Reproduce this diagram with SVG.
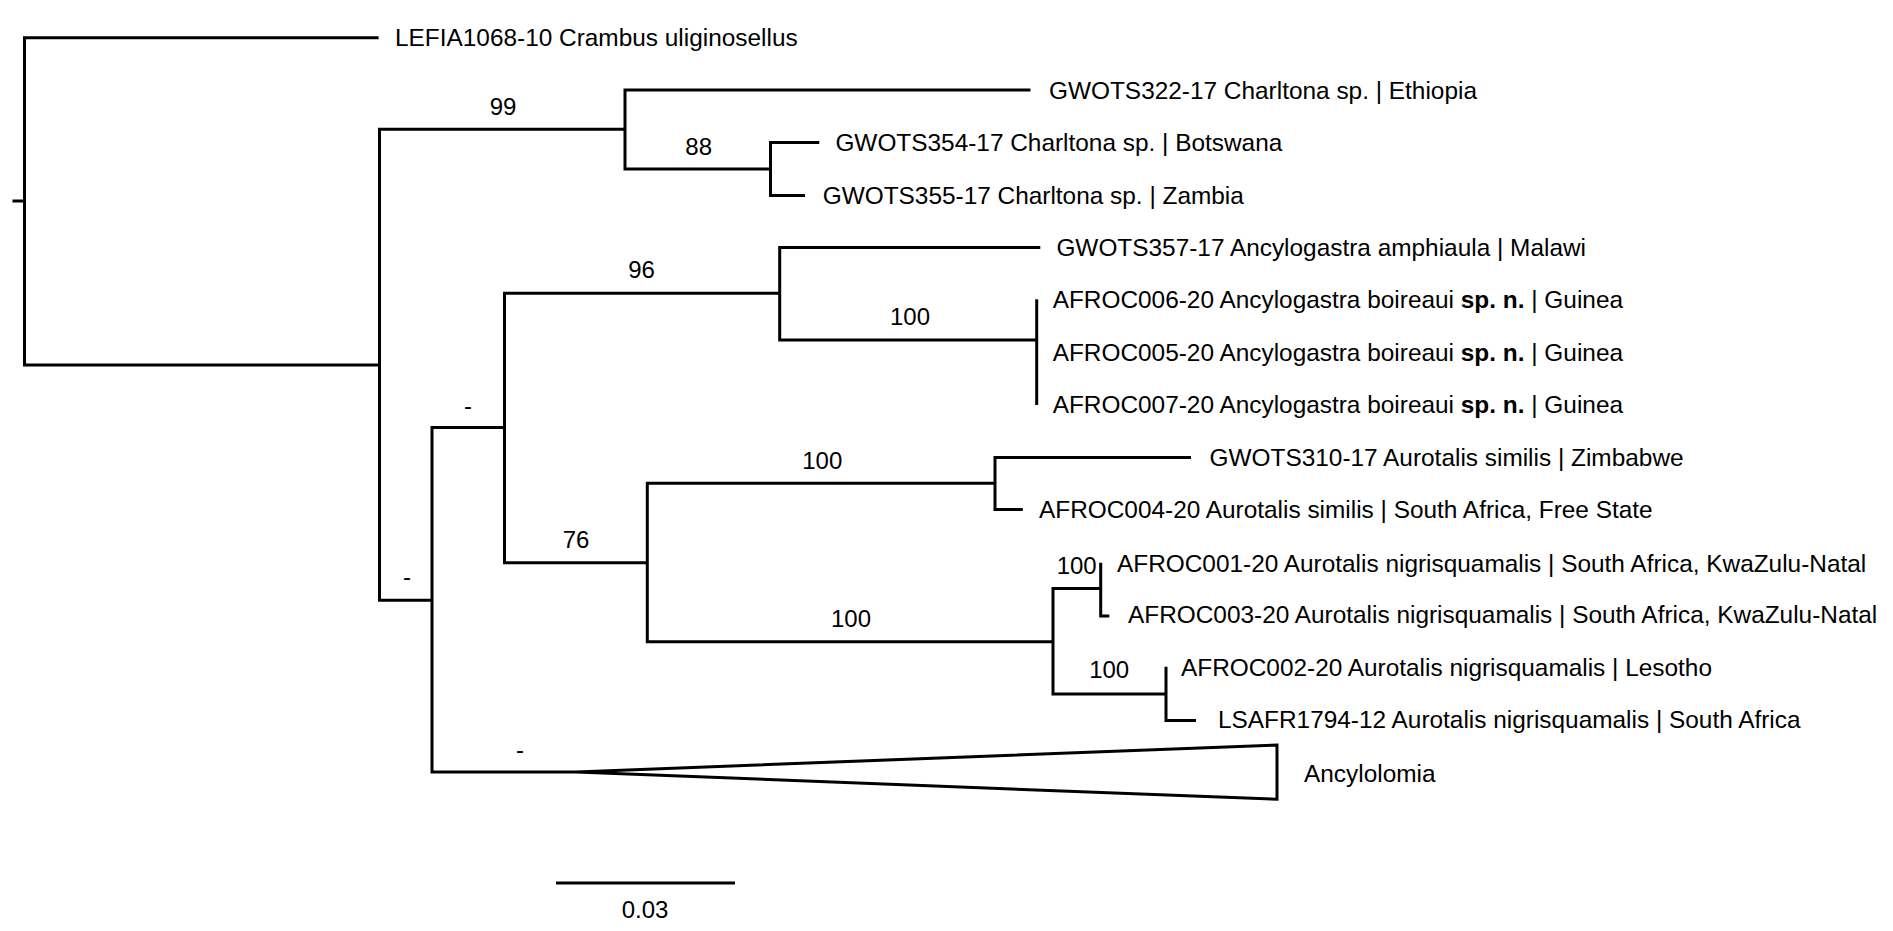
<svg xmlns="http://www.w3.org/2000/svg" width="1893" height="931" viewBox="0 0 1893 931">
<style>
  .br { fill: none; stroke: #000; stroke-width: 3; stroke-linejoin: miter; stroke-linecap: butt; }
  .tip { font-family: "Liberation Sans", Arial, sans-serif; font-size: 24.4px; fill: #000; }
  .bs { font-family: "Liberation Sans", Arial, sans-serif; font-size: 24px; fill: #000; text-anchor: middle; }
  .b { font-weight: bold; }
</style>
<rect width="1893" height="931" fill="#fff"/>
<g id="connectors">
  <path class="br" d="M12.5 201 H24.5"/>
  <path class="br" d="M378.6 37.7 H24.5 V365 H379.5"/>
  <path class="br" d="M625 129.3 H379.5 V600.3 H432"/>
  <path class="br" d="M1030.5 90 H625 V169 H770.5"/>
  <path class="br" d="M819.3 142.6 H770.5 V195.5 H805"/>
  <path class="br" d="M504.5 427.4 H432 V772 H576"/>
  <path class="br" d="M779.7 293.3 H504.5 V562.7 H647.3"/>
  <path class="br" d="M1040.3 247.5 H779.7 V340 H1036.7"/>
  <path class="br" d="M1036.7 299.3 V405"/>
  <path class="br" d="M995 483.3 H647.3 V641.7 H1053"/>
  <path class="br" d="M1191 457.5 H995 V509.5 H1022.8"/>
  <path class="br" d="M1100.7 588.5 H1053 V694 H1166"/>
  <path class="br" d="M1100.7 562.7 V616 H1109.3"/>
  <path class="br" d="M1166 666.7 V720.5 H1196"/>
</g>
<g id="leaf-lefia"><text class="tip" x="395" y="46">LEFIA1068-10 Crambus uliginosellus</text></g>
<g id="leaf-gwots322"><text class="tip" x="1049" y="98.5">GWOTS322-17 Charltona sp. | Ethiopia</text></g>
<g id="leaf-gwots354"><text class="tip" x="835.4" y="151">GWOTS354-17 Charltona sp. | Botswana</text></g>
<g id="leaf-gwots355"><text class="tip" x="822.7" y="203.5">GWOTS355-17 Charltona sp. | Zambia</text></g>
<g id="leaf-gwots357"><text class="tip" x="1056.4" y="256">GWOTS357-17 Ancylogastra amphiaula | Malawi</text></g>
<g id="leaf-afroc006"><text class="tip" x="1052.7" y="308">AFROC006-20 Ancylogastra boireaui <tspan class="b">sp. n.</tspan> | Guinea</text></g>
<g id="leaf-afroc005"><text class="tip" x="1052.7" y="360.5">AFROC005-20 Ancylogastra boireaui <tspan class="b">sp. n.</tspan> | Guinea</text></g>
<g id="leaf-afroc007"><text class="tip" x="1052.7" y="413">AFROC007-20 Ancylogastra boireaui <tspan class="b">sp. n.</tspan> | Guinea</text></g>
<g id="leaf-gwots310"><text class="tip" x="1209.6" y="465.7">GWOTS310-17 Aurotalis similis | Zimbabwe</text></g>
<g id="leaf-afroc004"><text class="tip" x="1039" y="518">AFROC004-20 Aurotalis similis | South Africa, Free State</text></g>
<g id="leaf-afroc001"><text class="tip" x="1117" y="571.5">AFROC001-20 Aurotalis nigrisquamalis | South Africa, KwaZulu-Natal</text></g>
<g id="leaf-afroc003"><text class="tip" x="1128" y="623.3">AFROC003-20 Aurotalis nigrisquamalis | South Africa, KwaZulu-Natal</text></g>
<g id="leaf-afroc002"><text class="tip" x="1181" y="676">AFROC002-20 Aurotalis nigrisquamalis | Lesotho</text></g>
<g id="leaf-lsafr1794"><text class="tip" x="1218" y="728.3">LSAFR1794-12 Aurotalis nigrisquamalis | South Africa</text></g>
<g id="clade-ancylolomia">
  <path class="br" d="M576 772 L1277 745 V799.3 Z"/>
  <text class="tip" x="1304" y="781.7">Ancylolomia</text>
</g>
<g id="support-labels">
  <text class="bs" x="503" y="115">99</text>
  <text class="bs" x="698.7" y="155">88</text>
  <text class="bs" x="641.5" y="278">96</text>
  <text class="bs" x="910" y="325">100</text>
  <text class="bs" x="468" y="414">-</text>
  <text class="bs" x="407" y="585">-</text>
  <text class="bs" x="576" y="548">76</text>
  <text class="bs" x="822.3" y="469.3">100</text>
  <text class="bs" x="851" y="626.7">100</text>
  <text class="bs" x="1076.7" y="574">100</text>
  <text class="bs" x="1109.2" y="678.3">100</text>
  <text class="bs" x="520" y="758">-</text>
</g>
<g id="scale-bar">
  <path class="br" d="M556 883 H735"/>
  <text class="bs" x="645" y="918">0.03</text>
</g>
</svg>
